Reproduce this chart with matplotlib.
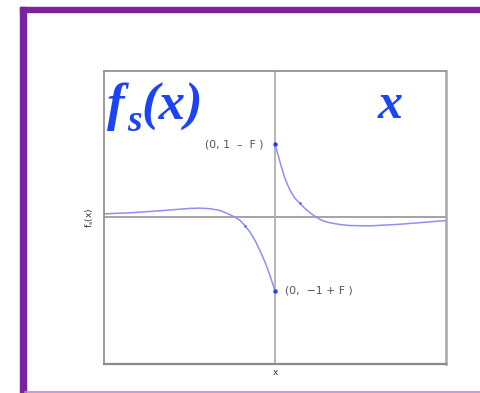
import matplotlib
matplotlib.use("Agg")
import matplotlib.pyplot as plt
from matplotlib.patches import Rectangle
from matplotlib.lines import Line2D

# Curve values
x_left = [-5.0, -4.24, -3.36, -2.49, -2.19, -1.90, -1.61, -1.37, -1.17, -1.02, -0.88,
          -0.73, -0.58, -0.44, -0.29, -0.146, 0.0]
y_left = [0.025, 0.032, 0.046, 0.062, 0.064, 0.060, 0.048, 0.025, 0.002, -0.02, -0.055,
          -0.10, -0.158, -0.226, -0.306, -0.397, -0.5]
x_right = [0.0, 0.073, 0.146, 0.22, 0.29, 0.37, 0.44, 0.58, 0.73, 0.88, 1.02, 1.17,
           1.32, 1.46, 1.61, 1.90, 2.19, 2.78, 3.36, 3.65, 4.3, 5.0]
y_right = [0.5, 0.44, 0.379, 0.32, 0.267, 0.222, 0.185, 0.132, 0.096, 0.06, 0.033, 0.008,
           -0.014, -0.027, -0.036, -0.048, -0.055, -0.057, -0.05, -0.046, -0.034, -0.021]
jump_x = [0.0, 0.0]
jump_y = [0.5, -0.5]
jump_labels = ["(0, 1  \u2013  F )", "(0,  \u22121 + F )"]

W, H = 480, 393
fig = plt.figure(figsize=(W / 100, H / 100), dpi=100)

def fx(px):
    return px / W

def fy(py):
    return 1 - py / H

# purple frame
purple = "#7b22a0"
fig.patches.append(Rectangle((fx(20), fy(393)), fx(5.5), fy(7) - fy(393),
                             transform=fig.transFigure, color=purple, zorder=0))
fig.patches.append(Rectangle((fx(20), fy(12.3)), 1 - fx(20), fy(7) - fy(12.3),
                             transform=fig.transFigure, color=purple, zorder=0))
fig.lines.append(Line2D([fx(25), 1], [fy(392.3), fy(392.3)], transform=fig.transFigure,
                        color="#b98ad6", lw=1.2))

ax = fig.add_axes([fx(104), fy(364), fx(446) - fx(104), fy(71) - fy(364)])
ax.set_xlim(-5, 5)
ax.set_ylim(-1, 1)
ax.set_xticks([])
ax.set_yticks([])
for s in ax.spines.values():
    s.set_color("#8a8a8a")
    s.set_linewidth(1.2)
ax.spines["right"].set_color("#a8a8a8")
ax.spines["right"].set_linewidth(1.8)
ax.spines["bottom"].set_linewidth(1.6)

ax.axhline(0, color="#8c8c8c", lw=1.1, zorder=1)
ax.axvline(0, color="#b0b0b0", lw=1.3, zorder=1)

line_color = "#8f8ff5"
ax.plot(x_left, y_left, color=line_color, lw=1.1, zorder=2,
        solid_capstyle="round", solid_joinstyle="round")
ax.plot(x_right, y_right, color=line_color, lw=1.1, zorder=2,
        solid_capstyle="round", solid_joinstyle="round")
ax.plot(jump_x, jump_y, "o", color="#2a3cf0", ms=3.2, zorder=3, mec="none")
ax.plot([x_left[10], x_right[8]], [y_left[10], y_right[8]], "o", color="#6a6cf0",
        ms=2.0, zorder=3, mec="none")

ax.text(-0.35, jump_y[0], jump_labels[0], fontsize=7.8, color="#5e5248",
        ha="right", va="center", family="DejaVu Sans")
ax.text(0.29, jump_y[1], jump_labels[1], fontsize=7.8, color="#5e5248",
        ha="left", va="center", family="DejaVu Sans")

blue = "#1c44f2"
serif = dict(family="Liberation Serif", style="italic", weight="bold", color=blue,
             ha="left", va="baseline")
fig.text(fx(107), fy(120), "f", fontsize=38, **serif)
fig.text(fx(127), fy(131), "s", fontsize=27, **serif)
fig.text(fx(141), fy(120), "(x)", fontsize=38, **serif)
ax.text(3.38, 0.76, "x", fontsize=36, color=blue, ha="center", va="center",
        family="Liberation Serif", style="italic", weight="bold")

ax.set_xlabel("x", fontsize=6.5, color="#333333", labelpad=3)
ax.set_ylabel("f$_{\\mathregular{s}}$(x)", fontsize=6.5, color="#333333", labelpad=6)

fig.savefig("out.png", dpi=100)
